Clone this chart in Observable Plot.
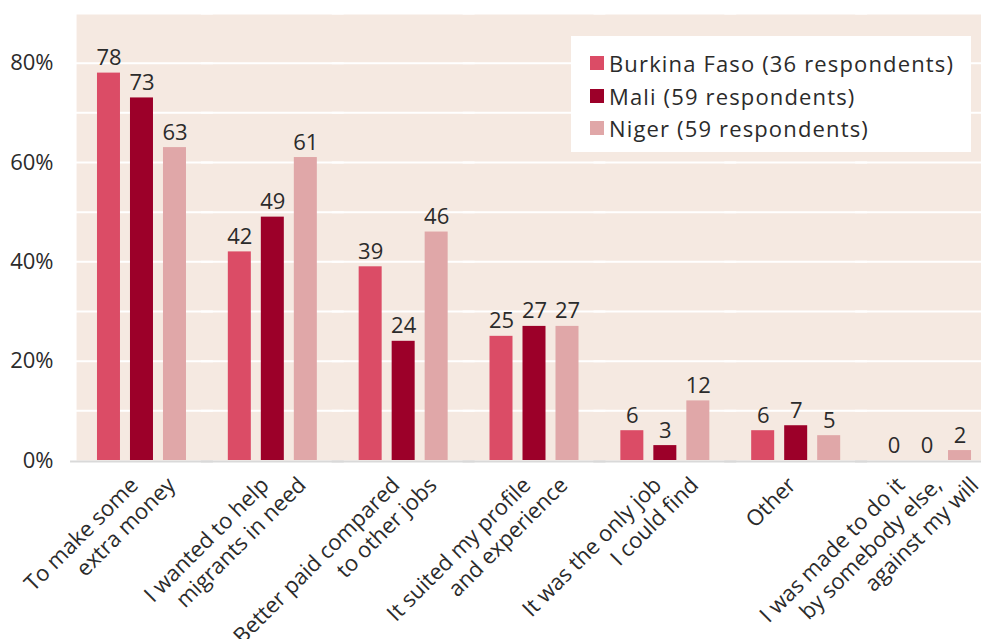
<!DOCTYPE html>
<html><head><meta charset="utf-8">
<script src="https://cdn.jsdelivr.net/npm/d3@7"></script>
<script src="https://cdn.jsdelivr.net/npm/@observablehq/plot@0.6"></script>
<style>
html,body{margin:0;padding:0;background:#fff;overflow:hidden;}
#wrap{position:relative;width:981px;height:639px;overflow:hidden;font-family:"Open Sans",sans-serif;color:#2b2b2b;}
#legend{position:absolute;left:571px;top:36px;width:400px;height:116px;background:#fff;box-sizing:border-box;padding:11px 0 0 19px;font-size:22px;letter-spacing:1.15px;}
.item{display:flex;align-items:center;height:32.5px;white-space:nowrap;}
.sw{width:14px;height:14px;margin-right:5px;flex:none;}
</style></head><body><div id="wrap"><div id="legend"></div></div>
<script>
const categories = [
  "To make some\nextra money",
  "I wanted to help\nmigrants in need",
  "Better paid compared\nto other jobs",
  "It suited my profile\nand experience",
  "It was the only job\nI could find",
  "Other",
  "I was made to do it\nby somebody else,\nagainst my will"
];
const countries = ["Burkina Faso", "Mali", "Niger"];
const respondents = [36, 59, 59];
const burkinaFaso = [78, 42, 39, 25, 6, 6, 0];
const mali = [73, 49, 24, 27, 3, 7, 0];
const niger = [63, 61, 46, 27, 12, 5, 2];
const yTicks = [0, 20, 40, 60, 80];
const gridValues = [10, 20, 30, 40, 50, 60, 70, 80, 90];
const colors = ["#db4c66", "#9c0029", "#e0a7a8"];
const bg = "#f5e9e1";

const series = [burkinaFaso, mali, niger];
const rows = [];
categories.forEach((cat, i) => {
  countries.forEach((c, j) => rows.push({cat, country: c, value: series[j][i]}));
});

const labelRows = categories.flatMap(cat => {
  const lines = cat.split("\n");
  return lines.map((t, k) => ({cat, text: t, k, n: lines.length}));
});

const labelMarks = [];
for (let n = 1; n <= 3; n++) {
  for (let k = 0; k < n; k++) {
    const sub = labelRows.filter(d => d.n === n && d.k === k);
    if (!sub.length) continue;
    const dx = 37 * k - 18.5 * (n - 1) + (n > 1 ? 11 : -4);
    labelMarks.push(Plot.text(sub, {
      fx: "cat", text: "text", frameAnchor: "bottom", lineAnchor: "middle",
      textAnchor: "end", rotate: -45, dx, dy: 21, fontSize: 22
    }));
  }
}

const chart = Plot.plot({
  width: 996, height: 639,
  marginTop: 13, marginBottom: 179, marginLeft: 72, marginRight: 0,
  style: {fontFamily: "Open Sans", fontSize: "22px", color: "#2b2b2b", background: "transparent", maxWidth: "none", overflow: "visible"},
  fx: {domain: categories, paddingInner: 0, paddingOuter: 0.031, round: false, axis: null, label: null},
  x: {domain: countries, paddingInner: 0.303, paddingOuter: 0.634, round: false, axis: null},
  y: {domain: [0, 90]},
  color: {domain: countries, range: colors},
  marks: [
    Plot.frame({fill: bg, stroke: "none", facet: "super"}),
    Plot.ruleY(gridValues, {stroke: "white", strokeWidth: 2, insetLeft: -6, insetRight: -6}),
    Plot.ruleY([0], {stroke: "#d9d9d9", strokeWidth: 2, dy: 1, insetLeft: -6, insetRight: -6}),
    Plot.barY(rows, {fx: "cat", x: "country", y: "value", fill: "country"}),
    Plot.text(rows, {fx: "cat", x: "country", y: "value", text: d => String(d.value), lineAnchor: "bottom", dy: -8, fontSize: 22}),
    Plot.axisY({ticks: yTicks, tickFormat: d => d + "%", tickSize: 0, tickPadding: 23, fontSize: 22, anchor: "left", label: null}),
    ...labelMarks
  ]
});
document.getElementById("wrap").prepend(chart);

const legend = document.getElementById("legend");
countries.forEach((c, i) => {
  const item = document.createElement("div");
  item.className = "item";
  const sw = document.createElement("span");
  sw.className = "sw";
  sw.style.background = colors[i];
  const t = document.createElement("span");
  t.textContent = `${c} (${respondents[i]} respondents)`;
  item.append(sw, t);
  legend.append(item);
});
</script></body></html>
